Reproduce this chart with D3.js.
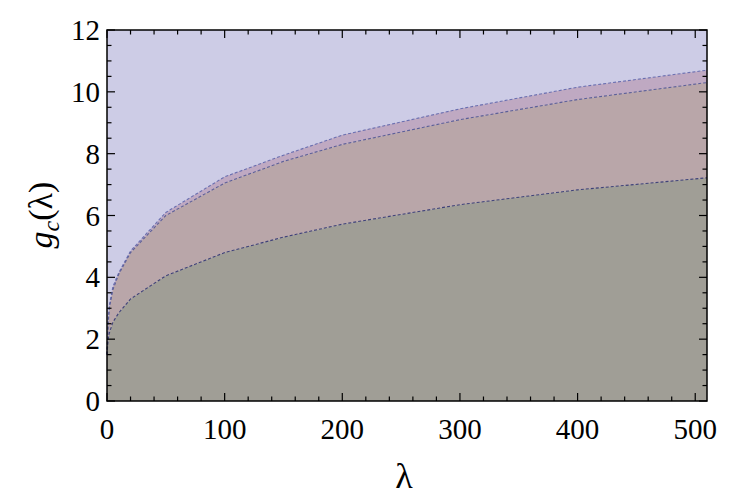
<!DOCTYPE html>
<html><head><meta charset="utf-8">
<script src="https://cdn.jsdelivr.net/npm/d3@7"></script>
<style>body{margin:0;background:#fff}svg{display:block}</style>
</head><body>
<svg id="c" width="756" height="499"></svg>
<script>
const lambdas = [0, 1, 2, 5, 10, 20, 50, 100, 150, 200, 300, 400, 510];
const upper  = [1.5, 2.6, 3.1, 3.7, 4.15, 4.85, 6.1, 7.25, 7.95, 8.6, 9.45, 10.15, 10.7];
const middle = [1.5, 2.5, 3.0, 3.6, 4.1, 4.8, 6.0, 7.05, 7.75, 8.3, 9.1, 9.75, 10.3];
const lower  = [1.5, 2.0, 2.2, 2.55, 2.85, 3.3, 4.05, 4.8, 5.3, 5.72, 6.35, 6.83, 7.22];
const xTicks = [0, 100, 200, 300, 400, 500];
const yTicks = [0, 2, 4, 6, 8, 10, 12];

const svg = d3.select("#c");
const L = 107, R = 707, T = 30, B = 401;
const x = d3.scaleLinear().domain([0, 510]).range([L, R]);
const y = d3.scaleLinear().domain([0, 12]).range([B, T]);

const data = lambdas.map((l, i) => ({l, u: upper[i], m: middle[i], b: lower[i]}));

// background (region above top curve)
svg.append("rect").attr("x", L).attr("y", T).attr("width", R - L).attr("height", B - T).attr("fill", "#cdcce6");

const area = (y0f, y1f) => d3.area().x(d => x(d.l)).y0(y0f).y1(y1f);
svg.append("path").datum(data).attr("fill", "#bfa9c2")
  .attr("d", area(d => y(d.m), d => y(d.u)));
svg.append("path").datum(data).attr("fill", "#b9a6a9")
  .attr("d", area(d => y(d.b), d => y(d.m)));
svg.append("path").datum(data).attr("fill", "#a09e96")
  .attr("d", area(() => y(0), d => y(d.b)));

const line = key => d3.line().x(d => x(d.l)).y(d => y(d[key]));
[["u", "#6a6fb0"], ["m", "#5c5f98"], ["b", "#3f4178"]].forEach(([k, c]) => {
  svg.append("path").datum(data).attr("fill", "none").attr("stroke", c)
    .attr("stroke-width", 1.1).attr("stroke-dasharray", "3,2").attr("d", line(k));
});

// frame
svg.append("rect").attr("x", L).attr("y", T).attr("width", R - L).attr("height", B - T)
  .attr("fill", "none").attr("stroke", "#000").attr("stroke-width", 1.5);

// ticks
const tg = svg.append("g").attr("stroke", "#000").attr("stroke-width", 1.2);
d3.range(0, 511, 20).forEach(v => {
  const major = v % 100 === 0;
  const len = major ? 8 : 4.5;
  tg.append("line").attr("x1", x(v)).attr("x2", x(v)).attr("y1", B).attr("y2", B - len);
  tg.append("line").attr("x1", x(v)).attr("x2", x(v)).attr("y1", T).attr("y2", T + len);
});
d3.range(0, 12.01, 0.5).forEach(v => {
  const major = Math.abs(v % 2) < 1e-9;
  const len = major ? 8 : 4.5;
  tg.append("line").attr("x1", L).attr("x2", L + len).attr("y1", y(v)).attr("y2", y(v));
  tg.append("line").attr("x1", R).attr("x2", R - len).attr("y1", y(v)).attr("y2", y(v));
});

const font = "'Liberation Serif', 'DejaVu Serif', serif";
svg.append("g").selectAll("text").data(xTicks).join("text")
  .attr("x", d => x(d)).attr("y", 439).attr("text-anchor", "middle")
  .attr("font-family", font).attr("font-size", 29).text(d => d);
svg.append("g").selectAll("text").data(yTicks).join("text")
  .attr("x", 100).attr("y", d => y(d) + 10).attr("text-anchor", "end")
  .attr("font-family", font).attr("font-size", 29).text(d => d);

svg.append("text").attr("x", 404).attr("y", 488).attr("text-anchor", "middle")
  .attr("font-family", font).attr("font-size", 36).text("λ");

const yl = svg.append("text").attr("transform", "translate(52,215) rotate(-90)")
  .attr("text-anchor", "middle").attr("font-family", font).attr("font-size", 34);
yl.append("tspan").attr("font-style", "italic").text("g");
yl.append("tspan").attr("font-style", "italic").attr("font-size", 24).attr("dy", 7).text("c");
yl.append("tspan").attr("dy", -7).text("(λ)");
</script>
</body></html>
